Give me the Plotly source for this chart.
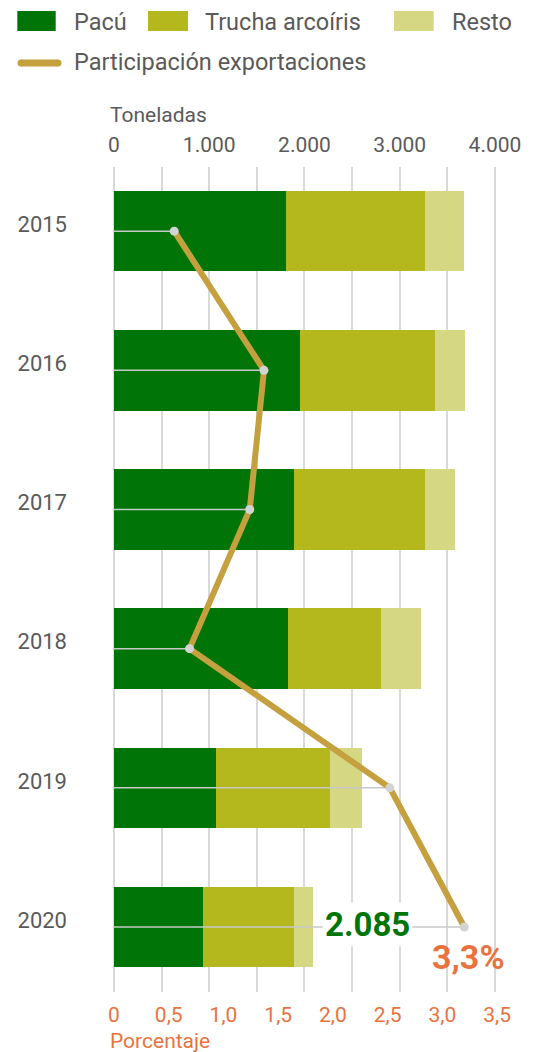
import plotly.graph_objects as go

# ---- data ----
years = ["2015", "2016", "2017", "2018", "2019", "2020"]
pacu = [1806, 1953, 1890, 1827, 1071, 931]
trucha = [1459, 1417, 1375, 976, 1197, 959]
resto = [410, 315, 315, 420, 336, 195]
participacion = [0.55, 1.37, 1.24, 0.69, 2.52, 3.20]  # % exportaciones

ton_ticks = [0, 1000, 2000, 3000, 4000]
pct_ticks = [0, 0.5, 1.0, 1.5, 2.0, 2.5, 3.0, 3.5]
pct_ticklabels = ["0", "0,5", "1,0", "1,5", "2,0", "2,5", "3,0", "3,5"]
last_pct_label = "3,3%"

series_names = ["Pacú", "Trucha arcoíris", "Resto"]
line_name = "Participación exportaciones"

# ---- style ----
FONT = "Roboto"
C_PACU = "#007406"
C_TRUCHA = "#B5B81D"
C_RESTO = "#D5D783"
C_LINE = "#C4A03F"
C_DOT = "#D3D3D3"
C_CONN = "#C8C8C8"
C_GRID = "#D9D9D9"
C_TEXT = "#5A5A5A"
C_ORANGE = "#E8733F"

W, H = 538, 1052
L, R, T, B = 114, 510, 167, 992
PW, PH = R - L, B - T


def px(p):
    return (p - L) / PW


def py(p):
    return (B - p) / PH


fig = go.Figure()

for name, vals, col in zip(series_names, [pacu, trucha, resto], [C_PACU, C_TRUCHA, C_RESTO]):
    fig.add_trace(go.Bar(
        y=years, x=vals, name=name, orientation="h",
        marker=dict(color=col, line=dict(width=0)),
        xaxis="x", yaxis="y", showlegend=False,
    ))

# thin connectors from 0 to each point
for yr, v in zip(years, participacion):
    fig.add_trace(go.Scatter(
        x=[0, v], y=[yr, yr], mode="lines",
        line=dict(color=C_CONN, width=1.5),
        xaxis="x2", yaxis="y", showlegend=False, hoverinfo="skip",
    ))

fig.add_trace(go.Scatter(
    x=participacion, y=years, mode="lines", name=line_name,
    line=dict(color=C_LINE, width=6),
    xaxis="x2", yaxis="y", showlegend=False,
))
fig.add_trace(go.Scatter(
    x=participacion, y=years, mode="markers",
    marker=dict(color=C_DOT, size=9),
    xaxis="x2", yaxis="y", showlegend=False, hoverinfo="skip",
))

total_last = pacu[-1] + trucha[-1] + resto[-1]
ton_ticktext = [f"{v:,}".replace(",", ".") for v in ton_ticks]
last_idx = len(years) - 1

annotations = [
    dict(text=f"{total_last:,}".replace(",", "."), x=total_last, y=last_idx,
         xref="x", yref="y", xanchor="left", yanchor="middle", xshift=9, yshift=3,
         showarrow=False, bgcolor="white", borderpad=2,
         font=dict(family=FONT, size=33, color=C_PACU, weight="bold")),
    dict(text=last_pct_label, x=participacion[-1], y=last_idx,
         xref="x2", yref="y", xanchor="center", yanchor="middle", xshift=4, yshift=-30,
         showarrow=False,
         font=dict(family=FONT, size=34, color=C_ORANGE, weight="bold")),
    dict(text="Toneladas", x=px(108.3), y=py(115.3), xref="paper", yref="paper",
         xanchor="left", yanchor="middle", showarrow=False,
         font=dict(family=FONT, size=21, color=C_TEXT)),
    dict(text="Porcentaje", x=px(108.3), y=py(1041), xref="paper", yref="paper",
         xanchor="left", yanchor="middle", showarrow=False,
         font=dict(family=FONT, size=21, color=C_ORANGE)),
]

# manual legend
shapes = []
leg = [(17.3, 55.7, 71.7, C_PACU, series_names[0]),
       (148, 188, 203, C_TRUCHA, series_names[1]),
       (394, 433.7, 449.7, C_RESTO, series_names[2])]
for x0, x1, tx, col, name in leg:
    shapes.append(dict(type="rect", xref="paper", yref="paper",
                       x0=px(x0), x1=px(x1), y0=py(31), y1=py(11),
                       fillcolor=col, line=dict(width=0)))
    annotations.append(dict(text=name, x=px(tx), y=py(22), xref="paper", yref="paper",
                            xanchor="left", yanchor="middle", showarrow=False,
                            font=dict(family=FONT, size=23.5, color=C_TEXT)))
# line swatch with rounded ends
shapes.append(dict(type="line", xref="paper", yref="paper",
                   x0=px(21), x1=px(58), y0=py(63), y1=py(63),
                   line=dict(color=C_LINE, width=7)))
for cx in (21, 58):
    shapes.append(dict(type="circle", xref="paper", yref="paper",
                       x0=px(cx - 3.5), x1=px(cx + 3.5), y0=py(66.5), y1=py(59.5),
                       fillcolor=C_LINE, line=dict(width=0)))
annotations.append(dict(text=line_name, x=px(71.7), y=py(62.5), xref="paper", yref="paper",
                        xanchor="left", yanchor="middle", showarrow=False,
                        font=dict(family=FONT, size=23.5, color=C_TEXT)))

fig.update_layout(
    width=W, height=H,
    margin=dict(l=L, r=W - R, t=T, b=H - B, pad=0),
    paper_bgcolor="white", plot_bgcolor="white",
    barmode="stack", bargap=0.422,
    separators=",.",
    font=dict(family=FONT, color=C_TEXT),
    xaxis=dict(
        side="top", range=[0, (R - L) / 95.24 * 1000],
        tickvals=ton_ticks, ticktext=ton_ticktext,
        showgrid=True, gridcolor=C_GRID, gridwidth=1.5,
        minor=dict(dtick=500, tick0=0, showgrid=True, gridcolor=C_GRID, gridwidth=1.5),
        zeroline=True, zerolinecolor=C_GRID, zerolinewidth=1.5,
        showline=False, ticks="", ticklabelstandoff=10,
        tickfont=dict(family=FONT, size=21, color=C_TEXT),
        fixedrange=True,
    ),
    xaxis2=dict(
        overlaying="x", side="bottom", anchor="y",
        range=[0, (R - L) / 109.47],
        tickvals=pct_ticks, ticktext=pct_ticklabels,
        showgrid=False, zeroline=False, showline=False, ticks="",
        ticklabelstandoff=8,
        tickfont=dict(family=FONT, size=21, color=C_ORANGE),
    ),
    yaxis=dict(
        type="category", categoryorder="array", categoryarray=years,
        range=[5.467, -0.461],
        showgrid=False, zeroline=False, showline=False, ticks="",
        ticklabelstandoff=46, ticklabelshift=7,
        tickfont=dict(family=FONT, size=22, color=C_TEXT),
    ),
    shapes=shapes,
    annotations=annotations,
    showlegend=False,
)

fig.write_html("out.html", config={"displayModeBar": False},
               post_script="document.body.style.margin='0';document.body.style.padding='0';")
